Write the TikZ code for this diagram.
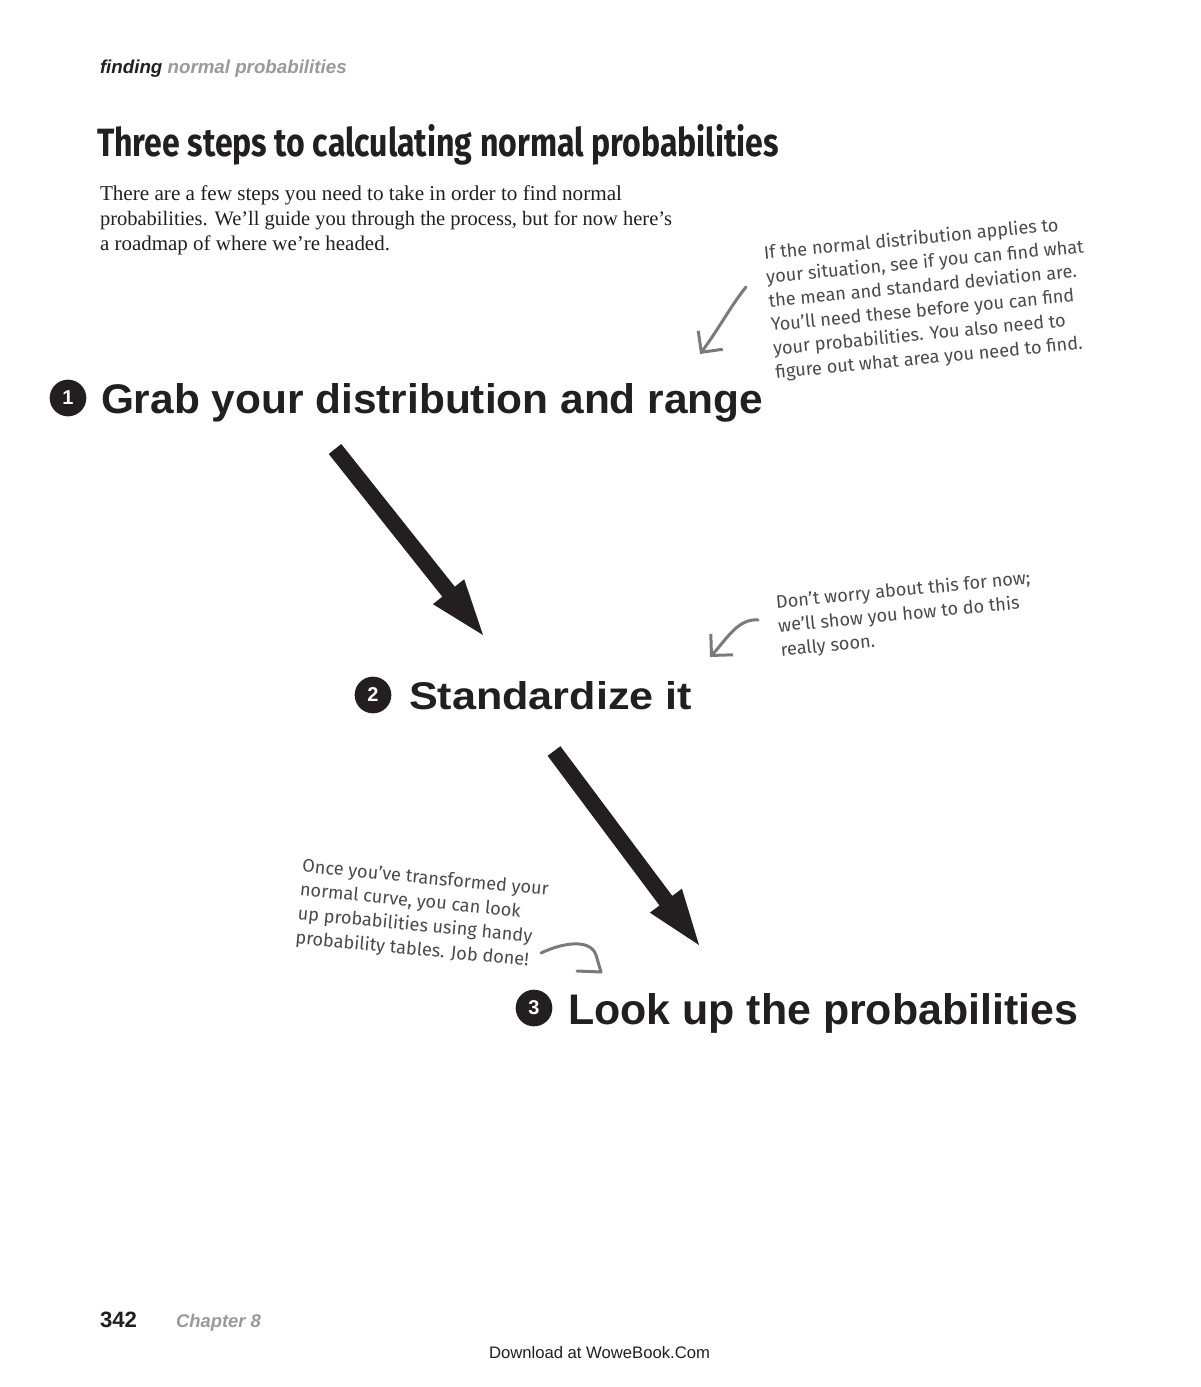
\documentclass[tikz,border=0pt]{standalone}
\usepackage{fontspec}
\usepackage{graphicx}
\setmainfont{Liberation Sans}
\newfontfamily\seriffont{Liberation Serif}
\newfontfamily\handfont{Fira Sans}
\newfontfamily\titlefont{Fira Sans}
\usetikzlibrary{arrows.meta,calc}
\definecolor{ink}{HTML}{231F20}
\definecolor{headgray}{HTML}{9A9A9A}
\definecolor{handgray}{HTML}{4A4A4A}
\definecolor{arrowgray}{HTML}{7A7A7A}
\newcommand\drawbigarrow[2]{%
  \coordinate (#1b) at ($(#2)!41.5pt!(#1)$);
  \fill[ink] ($(#1)!6pt!90:(#2)$) -- ($(#1b)!6pt!-90:(#1)$) -- ($(#1b)!15pt!-90:(#1)$) -- (#2)
    -- ($(#1b)!15pt!90:(#1)$) -- ($(#1b)!6pt!90:(#1)$) -- ($(#1)!6pt!-90:(#2)$) -- cycle;}
\begin{document}
\begin{tikzpicture}[x=0.75pt,y=-0.75pt,
  plain/.style={anchor=base west, inner sep=0pt, outer sep=0pt},
  stepnum/.style={circle, fill=ink, text=white, inner sep=0pt, minimum size=27.5pt,
    font=\bfseries\fontsize{15}{15}\selectfont},
  hand/.style={font=\handfont\fontsize{13.6}{18}\selectfont, text=handgray, align=left,
    inner sep=0pt, anchor=north west},
  handarrow/.style={draw=arrowgray, line width=2.25pt, line cap=round, line join=round},
  handtip/.style={handarrow, -{Straight Barb[length=11.5pt,width=23pt]}}]
\useasboundingbox (0,0) rectangle (1200,1387);
\fill[white] (0,0) rectangle (1200,1387);

% header
\node[plain] (hdr) at (100,74) {\resizebox{185pt}{!}{\bfseries\itshape\color{ink}finding \color{headgray}normal probabilities}};

% title
\node[plain] (title) at (97,157) {\resizebox{511.5pt}{24pt}{\titlefont\bfseries\color{ink}Three steps to calculating normal probabilities}};

% paragraph
\node[plain] (p1) at (100,201) {\resizebox{391.5pt}{!}{\seriffont\color{ink}There are a few steps you need to take in order to find normal}};
\node[plain] (p2) at (100,226) {\resizebox{429pt}{!}{\seriffont\color{ink}probabilities. We’ll guide you through the process, but for now here’s}};
\node[plain] (p3) at (100,251) {\resizebox{217.5pt}{!}{\seriffont\color{ink}a roadmap of where we’re headed.}};

% steps
\node[stepnum] (n1) at (68,398) {1};
\node[plain] (s1) at (101,413) {\resizebox{496.5pt}{22.5pt}{\bfseries\color{ink}Grab your distribution and range}};
\node[stepnum] (n2) at (373,695) {2};
\node[plain] (s2) at (409,709) {\resizebox{212.25pt}{21pt}{\bfseries\color{ink}Standardize it}};
\node[stepnum] (n3) at (534,1008) {3};
\node[plain] (s3) at (568,1024) {\resizebox{382.5pt}{23.25pt}{\bfseries\color{ink}Look up the probabilities}};

% big arrows
\coordinate (a1s) at (335,449);
\coordinate (a1e) at (483,635);
\drawbigarrow{a1s}{a1e}
\coordinate (a2s) at (554,751);
\coordinate (a2e) at (699,945);
\drawbigarrow{a2s}{a2e}

% annotations
\node[hand, rotate=5.5] (t1) at (763,245) {If the normal distribution applies to\\
your situation, see if you can find what\\
the mean and standard deviation are.\\
You’ll need these before you can find\\
your probabilities. You also need to\\
figure out what area you need to find.};
\node[hand, rotate=5.5] (t2) at (775,594) {Don’t worry about this for now;\\
we’ll show you how to do this\\
really soon.};
\node[hand, rotate=-5.5] (t3) at (303,858) {Once you’ve transformed your\\
normal curve, you can look\\
up probabilities using handy\\
probability tables. Job done!};

% hand arrows
\coordinate (h1s) at (746,287);
\coordinate (h1e) at (700,354);
\draw[handtip] (h1s) .. controls (730,307) and (718,330) .. (h1e);
\coordinate (h2s) at (758,620);
\coordinate (h2e) at (710,657);
\draw[handtip] (h2s) .. controls (738,618) and (726,640) .. (h2e);
\coordinate (h3s) at (541,953);
\coordinate (h3e) at (601,972);
\coordinate (h3a) at (577,971);
\coordinate (h3b) at (596,955);
\draw[handarrow] (h3s) .. controls (562,943) and (590,938) .. (h3b) -- (h3e) -- (h3a);

% footer
\node[plain] (pg) at (100,1327) {\resizebox{27.75pt}{!}{\bfseries\color{ink}342}};
\node[plain] (ch) at (176,1327) {\resizebox{63.75pt}{!}{\bfseries\itshape\color{headgray}Chapter 8}};
\node[plain] (dl) at (489,1358) {\resizebox{165.75pt}{!}{\color{ink}Download at WoweBook.Com}};
\end{tikzpicture}
\end{document}
